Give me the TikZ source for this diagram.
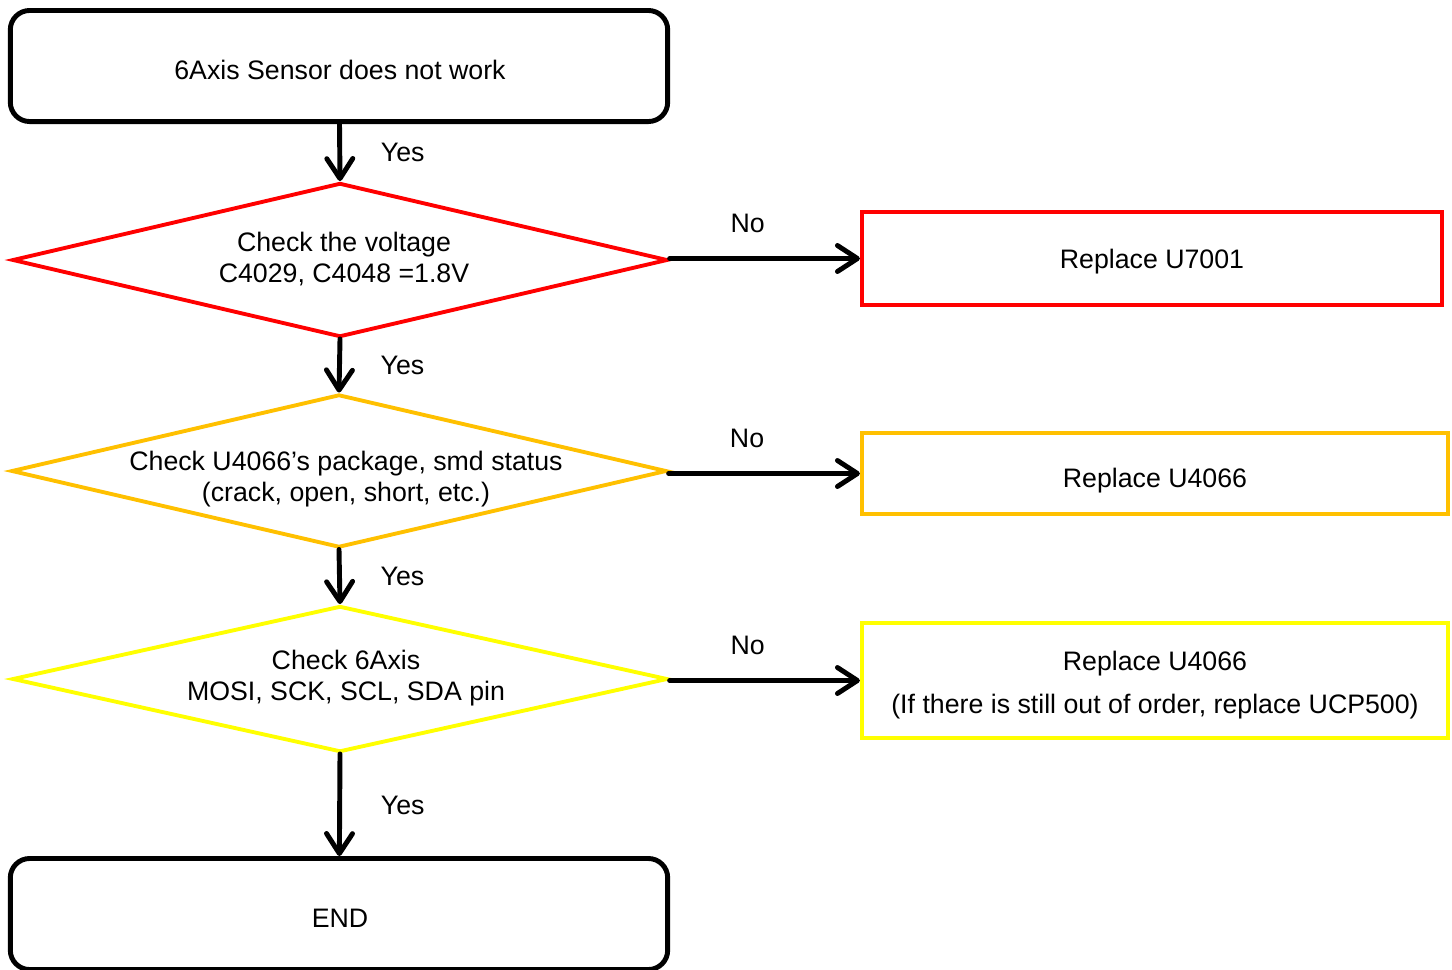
\documentclass[tikz,border=0pt]{standalone}
\usepackage{fontspec}
\setmainfont{Liberation Sans}
\usetikzlibrary{shapes.geometric,arrows.meta}
\definecolor{chkred}{RGB}{255,0,0}
\definecolor{chkorange}{RGB}{255,192,0}
\definecolor{chkyellow}{RGB}{255,255,0}
\tikzset{
  every node/.style={font=\fontsize{7.6}{8.8}\selectfont, align=center},
  endbox/.style={draw, line width=1.4pt, rounded corners=5.5pt, minimum width=6.57cm, minimum height=1.11cm},
  checkbox/.style={draw, diamond, line width=1.1pt, inner sep=0pt, minimum width=6.55cm},
  fixbox/.style={draw, line width=1.1pt},
  flow/.style={-{Straight Barb[length=2mm,width=2.6mm,round]}, line width=1.4pt, line cap=round},
}
\begin{document}
\begin{tikzpicture}[x=0.01cm, y=-0.01cm]
\useasboundingbox (0,0) rectangle (1452,969);
% start and end
\node[endbox] (start) at (339,66) {};
\node (ts) at (340,70) {6Axis Sensor does not work};
\node[endbox] (end) at (339,914) {};
\node (te) at (340,918) {END};
% checks
\node[checkbox, chkred, minimum height=1.54cm] (d1) at (340,260) {};
\node (t1) at ([shift={(4,-1)}]d1) {Check the voltage\\C4029, C4048 =1.8V};
\node[checkbox, chkorange, minimum height=1.53cm] (d2) at (339,471) {};
\node (t2) at ([shift={(7,8)}]d2) {Check U4066’s package, smd status\\(crack, open, short, etc.)};
\node[checkbox, chkyellow, minimum height=1.46cm] (d3) at (340,679) {};
\node (t3) at ([shift={(6,-1)}]d3) {Check 6Axis\\MOSI, SCK, SCL, SDA pin};
% repairs
\node[fixbox, chkred, minimum width=5.8cm, minimum height=0.93cm] (r1) at (1152,258.5) {};
\node (f1) at ([shift={(0,3)}]r1) {Replace U7001};
\node[fixbox, chkorange, minimum width=5.86cm, minimum height=0.81cm] (r2) at (1155,473.5) {};
\node (f2) at ([shift={(0,7)}]r2) {Replace U4066};
\node[fixbox, chkyellow, minimum width=5.86cm, minimum height=1.15cm] (r3) at (1155,680.5) {};
\node (f3) at ([shift={(0,5)}]r3) {Replace U4066\\[3.4pt](If there is still out of order, replace UCP500)};
% yes
\draw[flow] (start) -- (d1.north) node[midway, right=2.7mm]{Yes};
\draw[flow] (d1.south) -- (d2.north) node[midway, right=2.7mm]{Yes};
\draw[flow] (d2.south) -- (d3.north) node[midway, right=2.7mm]{Yes};
\draw[flow] (d3.south) -- (end) node[midway, right=2.7mm]{Yes};
% no
\foreach \i in {1,2,3}
{
    \draw[flow] (d\i.east |- r\i.west) -- (r\i.west) node[pos=.41, above=1.2mm]{No};
}
\end{tikzpicture}
\end{document}
